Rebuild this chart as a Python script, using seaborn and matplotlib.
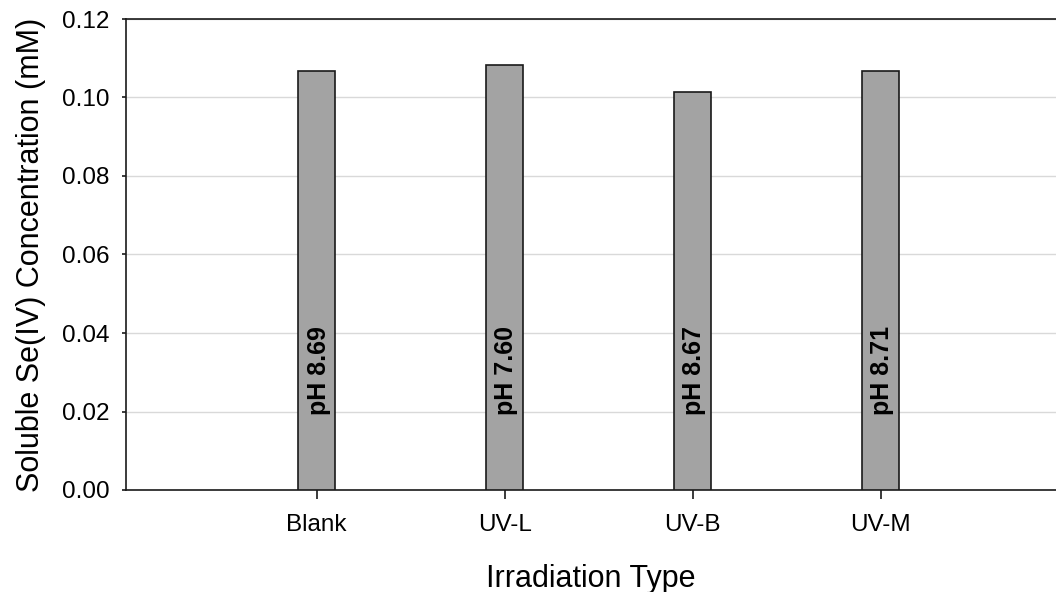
import matplotlib
matplotlib.use("Agg")
import matplotlib.pyplot as plt
import seaborn as sns
import pandas as pd

# Irradiation treatments and measured soluble Se(IV)
categories = ["Blank", "UV-L", "UV-B", "UV-M"]
concentration_mM = [0.1068, 0.1084, 0.1015, 0.1067]
final_ph = ["8.69", "7.60", "8.67", "8.71"]
y_ticks = [0.00, 0.02, 0.04, 0.06, 0.08, 0.10, 0.12]

df = pd.DataFrame({"Irradiation": categories, "Se": concentration_mM})

sns.set_theme(style="white")
plt.rcParams["font.family"] = ["Liberation Sans", "DejaVu Sans"]
plt.rcParams["text.color"] = "black"
plt.rcParams["axes.labelcolor"] = "black"
plt.rcParams["xtick.color"] = "black"
plt.rcParams["ytick.color"] = "black"

fig = plt.figure(figsize=(10.56, 5.92), dpi=100)
ax = fig.add_axes([126 / 1056, 102 / 592, 930 / 1056, 471 / 592])

sns.barplot(data=df, x="Irradiation", y="Se", order=categories,
            color="#a3a3a3", saturation=1, width=0.2,
            edgecolor="#1a1a1a", linewidth=1.2, ax=ax, zorder=3)

for i, ph in enumerate(final_ph):
    ax.text(i + 0.01, 0.0192, f"pH {ph}", rotation=90, ha="center", va="bottom",
            fontsize=18, fontweight="bold", color="black", zorder=4)

ax.set_xlim(-1.014, 3.933)
ax.set_ylim(0, 0.12)
ax.set_yticks(y_ticks)
ax.set_yticklabels([f"{v:.2f}" for v in y_ticks])
ax.yaxis.grid(True, color="#d9d9d9", linewidth=1, zorder=0)
ax.set_axisbelow(True)

for side in ["left", "bottom", "top"]:
    ax.spines[side].set_color("#1a1a1a")
    ax.spines[side].set_linewidth(1.2)
ax.spines["right"].set_visible(False)

ax.tick_params(axis="x", direction="out", length=6.5, width=1.2, color="#1a1a1a",
               bottom=True, labelsize=17.5, pad=11)
ax.tick_params(axis="y", direction="out", length=3, width=1.2, color="#1a1a1a",
               left=True, labelsize=17.5, pad=9)

ax.set_xlabel("Irradiation Type", fontsize=22, labelpad=20)
ax.set_ylabel("Soluble Se(IV) Concentration (mM)", fontsize=22, labelpad=11)

fig.savefig("out.png", dpi=100)
